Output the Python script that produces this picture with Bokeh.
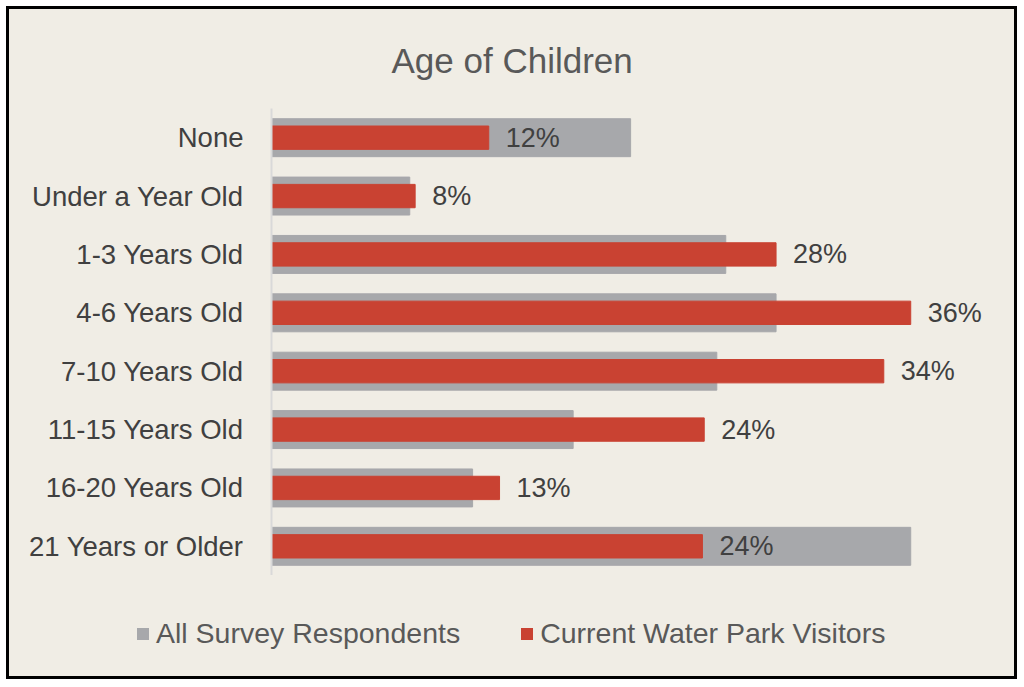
from bokeh.plotting import figure
from bokeh.models import ColumnDataSource, FactorRange, Range1d, Legend, LegendItem
from bokeh.layouts import column
from bokeh.core.properties import value
from bokeh.embed import file_html
from bokeh.resources import INLINE

categories = ["None", "Under a Year Old", "1-3 Years Old", "4-6 Years Old",
              "7-10 Years Old", "11-15 Years Old", "16-20 Years Old", "21 Years or Older"]
all_respondents = [20.0, 7.7, 25.3, 28.1, 24.8, 16.8, 11.2, 35.6]
water_park_visitors = [12.1, 8.0, 28.1, 35.6, 34.1, 24.1, 12.7, 24.0]
series_names = ["All Survey Respondents", "Current Water Park Visitors"]
title_text = "Age of Children"

BG = "#f0ede5"
GRAY = "#a7a8ab"
RED = "#c94232"
FONT = "Liberation Sans"

src = ColumnDataSource(dict(
    cat=categories,
    allr=all_respondents,
    wpv=water_park_visitors,
    lbl=[f"{round(v)}%" for v in water_park_visitors],
))

fig = figure(frame_width=729, frame_height=467, output_backend="svg", toolbar_location=None,
             y_range=FactorRange(factors=list(reversed(categories))),
             x_range=Range1d(0, 40.6), x_axis_type=None,
             min_border_left=262, min_border_right=14, min_border_top=99, min_border_bottom=0,
             background_fill_color=BG, border_fill_color=BG, outline_line_color=None)

fig.title.text = title_text
fig.title.align = "left"
fig.title.offset = 120
fig.title.standoff = 57
fig.title.text_font = FONT
fig.title.text_font_size = "35px"
fig.title.text_font_style = "normal"
fig.title.text_color = "#595959"

fig.hbar(y="cat", right="allr", height=0.65, left=0, source=src, color=GRAY)
fig.hbar(y="cat", right="wpv", height=0.4, left=0, source=src, color=RED)
fig.text(x="wpv", y="cat", text="lbl", source=src, x_offset=17, text_baseline="middle",
         text_align="left", text_font=value(FONT), text_font_size="27px", text_color="#404040")

fig.xgrid.visible = False
fig.ygrid.visible = False
ya = fig.yaxis[0]
ya.axis_line_color = "#d9d9d9"
ya.axis_line_width = 2
ya.major_tick_line_color = None
ya.minor_tick_line_color = None
ya.major_label_text_font = FONT
ya.major_label_text_font_size = "27.5px"
ya.major_label_text_color = "#404040"
ya.major_label_standoff = 22

# legend strip below the bars
leg = figure(width=1005, height=101, output_backend="svg", toolbar_location=None,
             x_range=Range1d(0, 1), y_range=Range1d(0, 1),
             x_axis_type=None, y_axis_type=None,
             min_border_left=0, min_border_right=0, min_border_top=0, min_border_bottom=0,
             background_fill_color=BG, border_fill_color=BG, outline_line_color=None)
leg.xgrid.visible = False
leg.ygrid.visible = False
for f in (fig, leg):
    try:
        f.frame_align = False
    except Exception:
        pass
# zero-size key glyphs: they only supply the legend swatches
sw_all = leg.hbar(y=[0], left=[0], right=[0], height=0, fill_color=GRAY, line_color=None)
sw_wpv = leg.hbar(y=[0], left=[0], right=[0], height=0, fill_color=RED, line_color=None)
legend = Legend(items=[LegendItem(label=series_names[0], renderers=[sw_all]),
                       LegendItem(label=series_names[1], renderers=[sw_wpv])],
                orientation="horizontal", location=(126, 26),
                label_text_font=FONT, label_text_font_size="28.5px", label_text_color="#595959",
                glyph_width=15, glyph_height=15, label_standoff=6, spacing=59,
                background_fill_alpha=0, border_line_color=None, padding=0, margin=0)
leg.add_layout(legend, "center")

p = column(fig, leg, spacing=0,
           styles={"border": "3px solid #000000", "background-color": BG,
                   "margin-left": "6px", "margin-top": "6px"})

open("out.html", "w").write(file_html(p, INLINE))
